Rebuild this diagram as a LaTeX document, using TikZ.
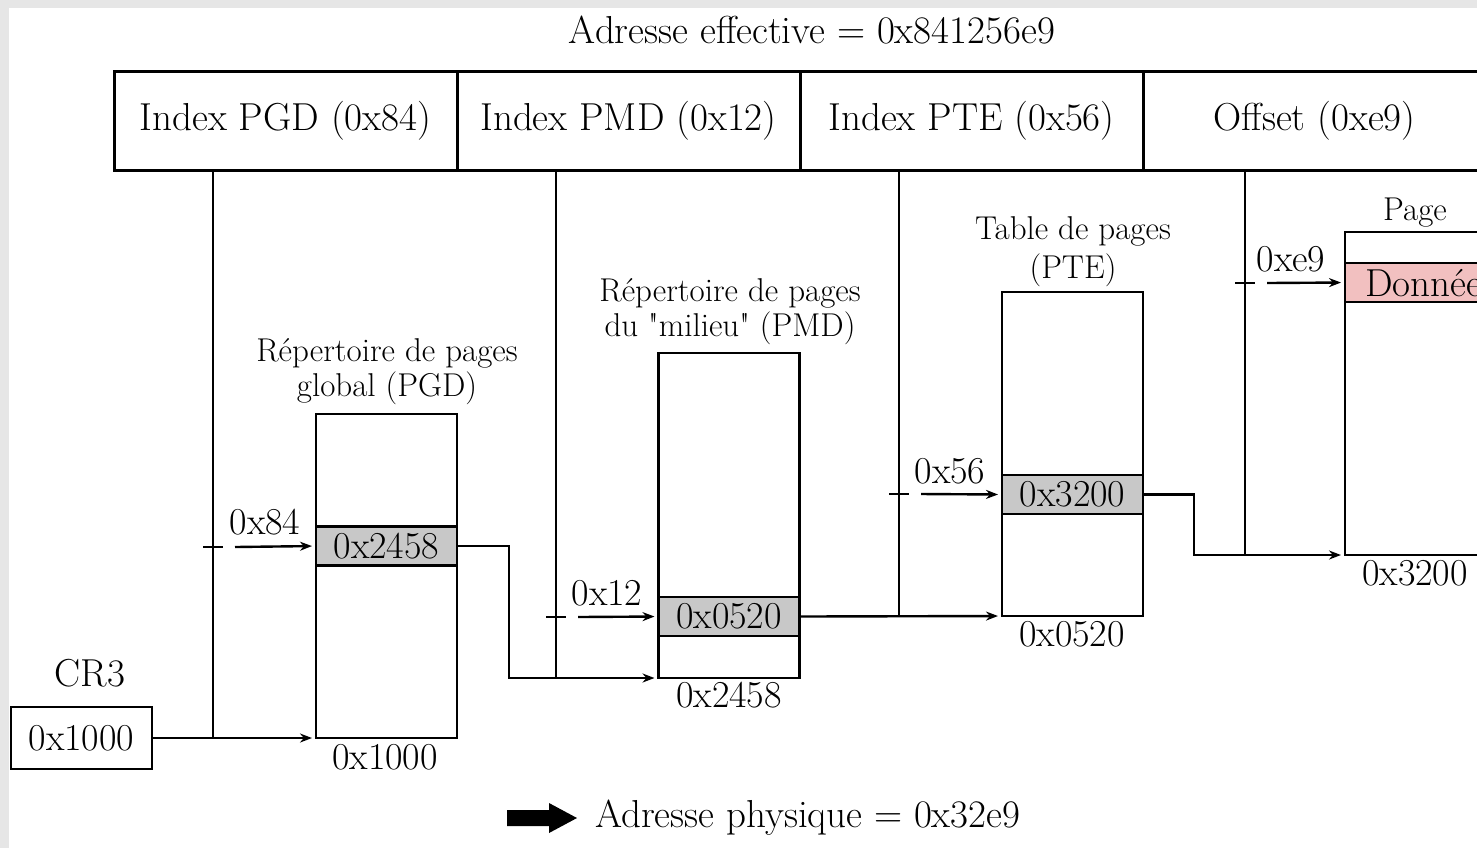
\documentclass[tikz,border=0pt]{standalone}
\usepackage{fontspec}
\usetikzlibrary{arrows.meta}
\definecolor{bordergray}{RGB}{230,230,230}
\definecolor{rowgray}{RGB}{200,200,200}
\definecolor{rowpink}{RGB}{242,192,192}
\tikzset{
  big/.style={font=\fontsize{19.5}{21}\selectfont},
  hex/.style={font=\fontsize{19}{21}\selectfont\addfontfeature{LetterSpace=8}},
  ttl/.style={font=\fontsize{16.5}{17.5}\selectfont, align=center},
  cell/.style={draw, line width=1.5pt, minimum width=171.5pt, minimum height=49.5pt, inner sep=0pt, outer sep=0pt, big},
  tbl/.style={draw, line width=1.3pt, minimum width=70.5pt, inner sep=0pt, outer sep=0pt},
  rowbox/.style={draw, line width=1.3pt, minimum width=70.5pt, minimum height=19.5pt, inner sep=0pt, outer sep=0pt, fill=rowgray, hex},
  conn/.style={line width=1.2pt},
  arr/.style={conn, -{Stealth[length=6pt,width=4.5pt]}, shorten >=2pt},
}
\begin{document}
\begin{tikzpicture}[x=0.5pt,y=-0.5pt]
\useasboundingbox (0,0) rectangle (1477,848);
\clip (0,0) rectangle (1477,848);
\fill[white] (0,0) rectangle (1477,848);
\fill[bordergray] (0,0) rectangle (1477,8);
\fill[bordergray] (0,0) rectangle (9,848);

% title
\node[big] (title) at (812,30) {Adresse effective = 0x841256e9};

% address bar
\node[cell] (b1) at (285.5,120.5) {Index PGD (0x84)};
\node[cell] (b2) at (628.5,120.5) {Index PMD (0x12)};
\node[cell] (b3) at (971.5,120.5) {Index PTE (0x56)};
\node[cell] (b4) at (1314.5,120.5) {Offset (0xe9)};

% CR3
\node[big] (cr3lbl) at (90,673) {CR3};
\node[draw, line width=1.3pt, minimum width=70.5pt, minimum height=31pt, inner sep=0pt, outer sep=0pt, hex] (cr3) at (81.5,738) {0x1000};

% PGD
\node[ttl] (pgdttl) at (387,372) {Répertoire de pages\\global (PGD)};
\node[tbl, minimum height=162pt] (pgd) at (386.5,576) {};
\node[rowbox] (pgdrow) at (386.5,546) {0x2458};
\node[hex] (pgdaddr) at (385,757) {0x1000};

% PMD
\node[ttl] (pmdttl) at (730,312) {Répertoire de pages\\du \textquotedbl milieu\textquotedbl{} (PMD)};
\node[tbl, minimum height=162.5pt] (pmd) at (729,515.5) {};
\node[rowbox] (pmdrow) at (729,616.5) {0x0520};
\node[hex] (pmdaddr) at (729,695) {0x2458};

% PTE
\node[ttl, font=\fontsize{16.5}{19.5}\selectfont] (ptettl) at (1073,252) {Table de pages\\(PTE)};
\node[tbl, minimum height=162pt] (pte) at (1072.5,454) {};
\node[rowbox] (pterow) at (1072.5,494.5) {0x3200};
\node[hex] (pteaddr) at (1072,634) {0x0520};

% Page
\node[ttl] (pagettl) at (1415,213) {Page};
\node[tbl, minimum height=161.5pt] (page) at (1415.5,393.5) {};
\node[rowbox, fill=rowpink] (pagerow) at (1415.5,282.5) {};
\node[big, anchor=west] (data) at (1358,283) {Données};
\node[hex] (pageaddr) at (1415,573) {0x3200};

% junctions
\coordinate (j1) at (213,547);
\coordinate (j2) at (556,617);
\coordinate (j3) at (899,494);
\coordinate (j4) at (1245,283);
\coordinate (k1) at (509,678);
\coordinate (k2) at (1194,555);

% vertical index lines
\draw[conn] (b1.south -| j1) -- (j1 |- cr3.east);
\draw[conn] (b2.south -| j2) -- (j2 |- pmd.south);
\draw[conn] (b3.south -| j3) -- (j3 |- pte.south);
\draw[conn] (b4.south -| j4) -- (j4 |- page.south);

% plus marks
\foreach \j in {j1,j2,j3,j4} {
  \draw[conn] ([xshift=-5pt]\j) -- ([xshift=5pt]\j);
}

% index arrows
\draw[arr] ([xshift=11pt]j1) -- (pgdrow.west);
\draw[arr] ([xshift=11pt]j2) -- (pmdrow.west);
\draw[arr] ([xshift=11pt]j3) -- (pterow.west);
\draw[arr] ([xshift=11pt]j4) -- (pagerow.west);
\node[hex] (l1) at (265,522) {0x84};
\node[hex] (l2) at (607,593) {0x12};
\node[hex] (l3) at (950,471) {0x56};
\node[hex] (l4) at (1291,259) {0xe9};

% base arrows
\draw[arr] (cr3.east) -- (pgd.south west);
\draw[arr] (pgdrow.east) -| (k1) -- (pmd.south west);
\draw[arr] (pmdrow.east) -- (pte.south west);
\draw[arr] (pterow.east) -| (k2) -- (page.south west);

% physical address
\fill (507,810) -- (549,810) -- (549,803) -- (577,818) -- (549,833) -- (549,826) -- (507,826) -- cycle;
\node[big, anchor=west] (phys) at (588,818) {Adresse physique = 0x32e9};
\end{tikzpicture}
\end{document}
